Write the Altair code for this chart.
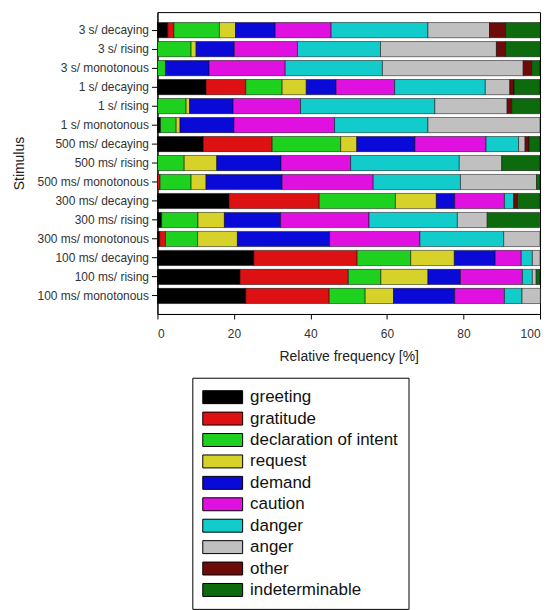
import altair as alt
import pandas as pd

stimuli = [
    "3 s/ decaying", "3 s/ rising", "3 s/ monotonous",
    "1 s/ decaying", "1 s/ rising", "1 s/ monotonous",
    "500 ms/ decaying", "500 ms/ rising", "500 ms/ monotonous",
    "300 ms/ decaying", "300 ms/ rising", "300 ms/ monotonous",
    "100 ms/ decaying", "100 ms/ rising", "100 ms/ monotonous",
]

categories = ["greeting", "gratitude", "declaration of intent", "request", "demand",
              "caution", "danger", "anger", "other", "indeterminable"]

colors = ["#000000", "#dd1111", "#1fd11f", "#d6d22a", "#0a0ad8",
          "#e010e0", "#12cccc", "#c0c0c0", "#6e0a0a", "#0d6b0d"]

greeting       = [2.7, 0, 0, 12.7, 0, 0.8, 12.0, 0, 0, 18.7, 1.1, 0.6, 25.2, 21.6, 23.1]
gratitude      = [1.6, 0, 0, 10.4, 0, 0, 18.0, 0, 0.7, 23.6, 0, 1.5, 27.0, 28.3, 21.8]
declaration    = [11.9, 8.8, 2.1, 9.5, 7.5, 4.1, 17.9, 7.0, 8.1, 19.9, 9.5, 8.4, 14.0, 8.5, 9.4]
request        = [4.2, 1.3, 0, 6.3, 0.9, 1.0, 4.2, 8.5, 3.9, 10.7, 6.9, 10.4, 11.4, 12.3, 7.4]
demand         = [10.4, 10.0, 11.4, 7.8, 11.4, 14.1, 15.2, 16.8, 19.9, 4.8, 14.7, 24.1, 10.7, 8.5, 16.0]
caution        = [14.6, 16.5, 19.9, 15.3, 17.6, 26.3, 18.6, 18.2, 23.8, 13.0, 23.1, 23.6, 6.8, 16.2, 13.0]
danger         = [25.3, 21.7, 25.4, 23.7, 35.1, 24.4, 8.5, 28.4, 22.8, 2.4, 23.1, 21.9, 2.9, 2.6, 4.6]
anger          = [16.1, 30.3, 36.8, 6.4, 18.9, 29.3, 1.7, 11.1, 19.9, 0, 7.8, 9.5, 2.0, 1.0, 4.8]
other          = [4.2, 2.4, 2.2, 1.1, 1.2, 0, 1.0, 0, 0, 1.0, 0, 0, 0, 0, 0]
indeterminable = [9.1, 9.1, 2.2, 6.8, 7.5, 0, 2.9, 10.0, 0.9, 5.9, 13.7, 0, 0, 1.0, 0]

series = [greeting, gratitude, declaration, request, demand,
          caution, danger, anger, other, indeterminable]

rows = []
for ci, (cat, vals) in enumerate(zip(categories, series)):
    for s, v in zip(stimuli, vals):
        if v > 0:
            rows.append({"stimulus": s, "category": cat, "idx": ci, "value": v})
df = pd.DataFrame(rows)

FONT = "Liberation Sans"

chart = alt.Chart(df).mark_bar(stroke="black", strokeWidth=0.5).encode(
    y=alt.Y("stimulus:N", sort=stimuli,
            scale=alt.Scale(paddingInner=0.2, paddingOuter=0.55),
            axis=alt.Axis(title="Stimulus", labelFontSize=12, titleFontSize=14,
                          titleFontWeight="normal", tickSize=6, labelPadding=3,
                          titlePadding=10, labelFont=FONT, titleFont=FONT,
                          labelColor="#333333", titleColor="#222222",
                          domainColor="black", tickColor="black")),
    x=alt.X("value:Q", stack="zero",
            scale=alt.Scale(domain=[0, 100], nice=False),
            axis=alt.Axis(title="Relative frequency [%]", values=[0, 20, 40, 60, 80, 100],
                          grid=False, labelFontSize=12, titleFontSize=14,
                          titleFontWeight="normal", tickSize=5, labelPadding=10,
                          titlePadding=10, labelFont=FONT, titleFont=FONT,
                          labelColor="#333333", titleColor="#222222",
                          domainColor="black", tickColor="black")),
    color=alt.Color("category:N",
                    scale=alt.Scale(domain=categories, range=colors),
                    legend=alt.Legend(
                        orient="none", legendX=35, legendY=367, title=None,
                        symbolType="M-2.222,-0.722L2.222,-0.722L2.222,0.722L-2.222,0.722Z",
                        symbolSize=324, symbolStrokeColor="black", symbolStrokeWidth=1,
                        symbolOffset=11, labelOffset=18, labelFontSize=17,
                        labelFont=FONT, labelColor="#111111", labelLimit=300,
                        rowPadding=3.5, padding=10, strokeColor="black",
                        fillColor="white", symbolOpacity=1)),
    order=alt.Order("idx:Q", sort="ascending"),
    tooltip=["stimulus", "category", "value"],
).properties(
    width=384, height=303,
    padding={"left": 4, "top": 3, "right": 5, "bottom": 0},
).configure_view(stroke="black", strokeWidth=1)

chart.save("out.html", embed_options={"renderer": "svg", "actions": False})
